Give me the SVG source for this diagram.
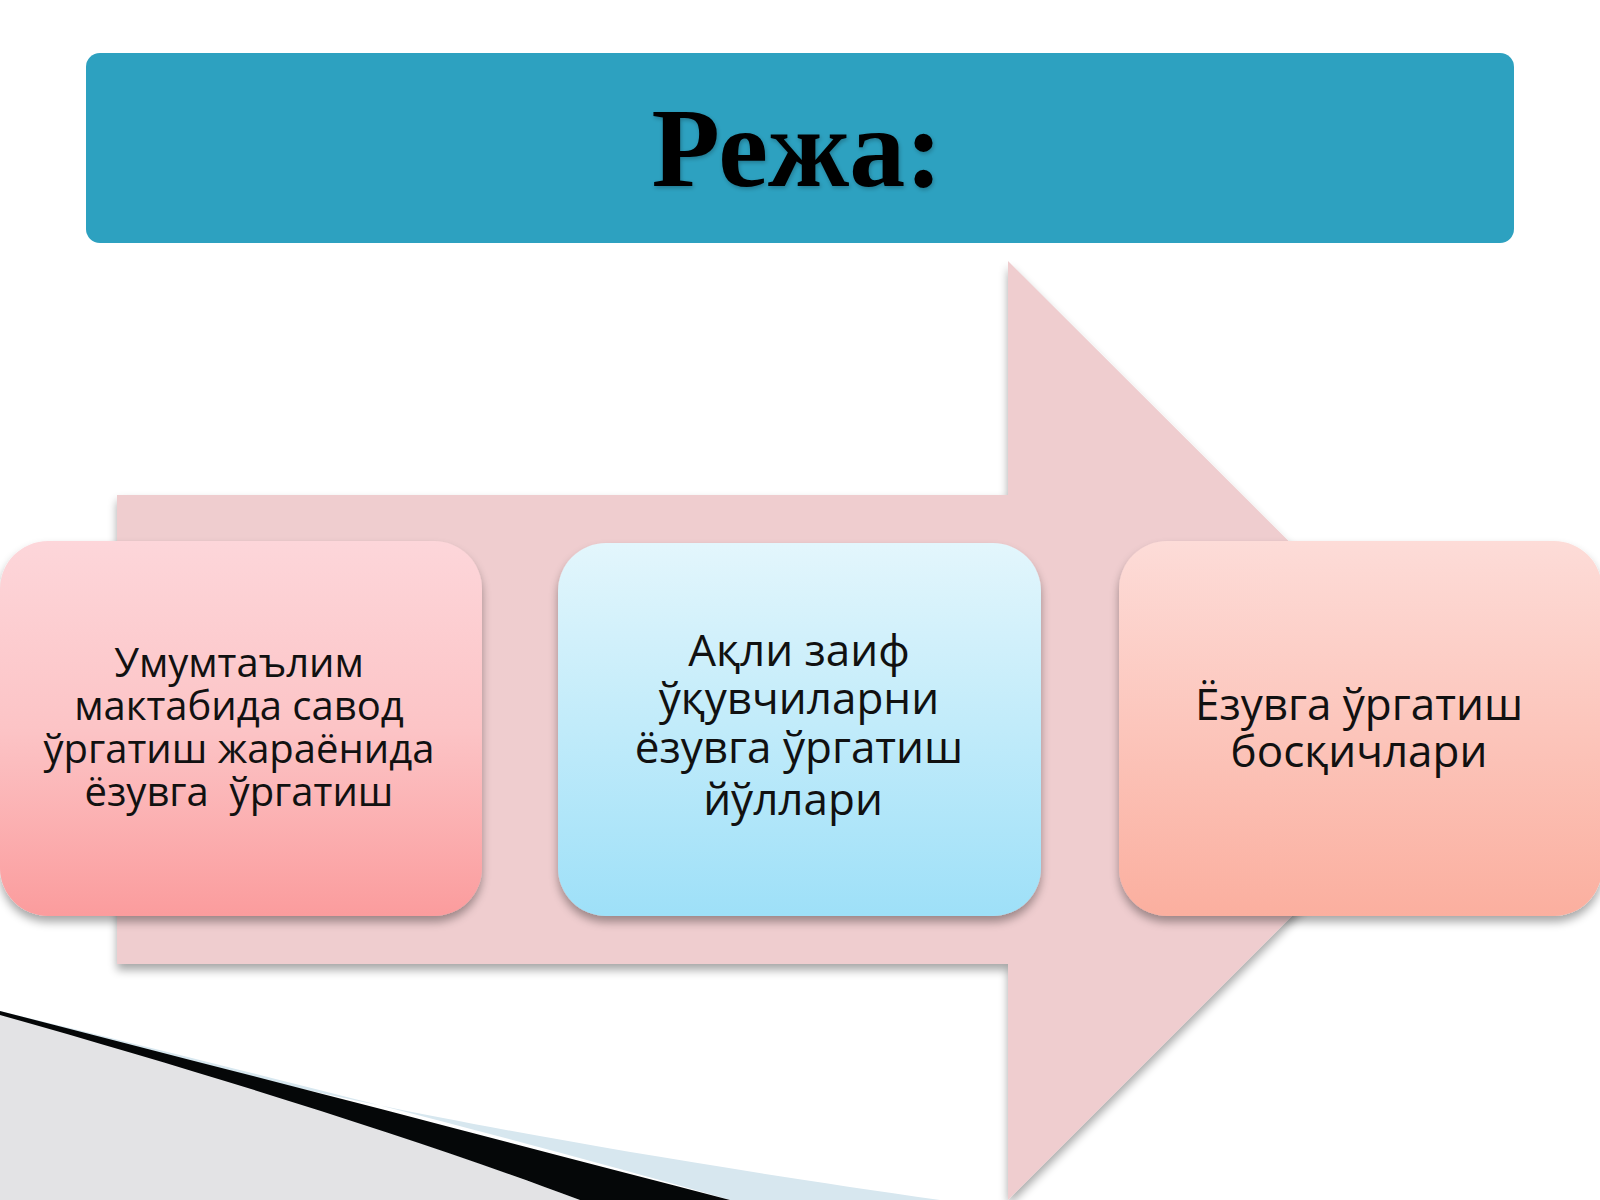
<svg xmlns="http://www.w3.org/2000/svg" width="1600" height="1200" viewBox="0 0 1600 1200">
  <defs>
    <linearGradient id="gPink" x1="0" y1="0" x2="0" y2="1">
      <stop offset="0" stop-color="#fdd6da"/>
      <stop offset="0.5" stop-color="#fcc4c6"/>
      <stop offset="1" stop-color="#fb9c9d"/>
    </linearGradient>
    <linearGradient id="gBlue" x1="0" y1="0" x2="0" y2="1">
      <stop offset="0" stop-color="#e3f6fc"/>
      <stop offset="1" stop-color="#9ee0f8"/>
    </linearGradient>
    <linearGradient id="gPeach" x1="0" y1="0" x2="0" y2="1">
      <stop offset="0" stop-color="#fddcd8"/>
      <stop offset="1" stop-color="#fbaf9f"/>
    </linearGradient>
    <filter id="sh" x="-10%" y="-10%" width="120%" height="130%">
      <feGaussianBlur in="SourceAlpha" stdDeviation="5"/>
      <feOffset dx="0" dy="6" result="b"/>
      <feComponentTransfer><feFuncA type="linear" slope="0.35"/></feComponentTransfer>
      <feMerge><feMergeNode/><feMergeNode in="SourceGraphic"/></feMerge>
    </filter>
    <filter id="tsh" x="-5%" y="-5%" width="110%" height="120%">
      <feGaussianBlur in="SourceAlpha" stdDeviation="2"/>
      <feOffset dx="1" dy="2" result="b"/>
      <feComponentTransfer><feFuncA type="linear" slope="0.25"/></feComponentTransfer>
      <feMerge><feMergeNode/><feMergeNode in="SourceGraphic"/></feMerge>
    </filter>
  </defs>
  <style>
    .box-text { font-family: "Open Sans", "Noto Sans", "DejaVu Sans", sans-serif; fill: #111; text-anchor: middle; }
    .title { font-family: "Liberation Serif", "Times New Roman", serif; font-weight: bold; fill: #000; text-anchor: middle; }
  </style>
  <rect width="1600" height="1200" fill="#ffffff"/>

  <!-- bottom-left decoration -->
  <g id="decoration">
    <path d="M0,1013 C200,1070 450,1130 940,1200 L730,1200 C450,1120 200,1060 0,1011 Z" fill="#d7e7ef"/>
    <path d="M0,1014 C220,1075 420,1140 580,1200 L0,1200 Z" fill="#e3e3e5"/>
    <path d="M0,1011 C250,1075 500,1140 730,1200 L580,1200 C420,1140 220,1077 0,1015 Z" fill="#050708"/>
  </g>

  <!-- title -->
  <g id="title">
    <rect x="86" y="53" width="1428" height="190" rx="14" fill="#2da1c0"/>
    <text class="title" x="797" y="186" font-size="112" filter="url(#tsh)">Режа:</text>
  </g>

  <!-- big arrow -->
  <g id="arrow" filter="url(#sh)">
    <polygon points="117,495 1008,495 1008,261 1478,730 1008,1200 1008,964 117,964" fill="#efcdcf"/>
  </g>

  <g id="node1" filter="url(#sh)">
    <rect x="0" y="541" width="482" height="375" rx="48" fill="url(#gPink)"/>
  </g>
  <g id="node1-text" class="box-text" font-size="40">
    <text x="239" y="677">Умумтаълим</text>
    <text x="239" y="720">мактабида савод</text>
    <text x="239" y="763">ўргатиш жараёнида</text>
    <text x="239" y="806" xml:space="preserve">ёзувга  ўргатиш</text>
  </g>

  <g id="node2" filter="url(#sh)">
    <rect x="558" y="543" width="483" height="373" rx="48" fill="url(#gBlue)"/>
  </g>
  <g id="node2-text" class="box-text" font-size="44">
    <text x="799" y="666">Ақли заиф</text>
    <text x="799" y="714">ўқувчиларни</text>
    <text x="799" y="763">ёзувга ўргатиш</text>
    <text x="793" y="815">йўллари</text>
  </g>

  <g id="node3" filter="url(#sh)">
    <rect x="1119" y="541" width="483" height="375" rx="48" fill="url(#gPeach)"/>
  </g>
  <g id="node3-text" class="box-text" font-size="44">
    <text x="1359" y="720">Ёзувга ўргатиш</text>
    <text x="1359" y="767">босқичлари</text>
  </g>
</svg>
